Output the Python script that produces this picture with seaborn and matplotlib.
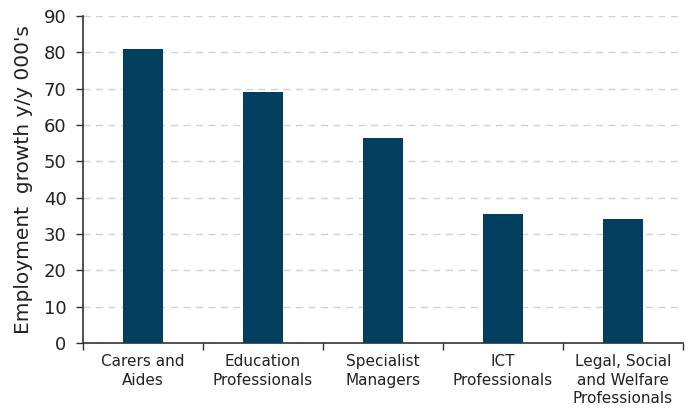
import matplotlib
matplotlib.use("Agg")
import matplotlib.pyplot as plt
import seaborn as sns
import pandas as pd
import numpy as np

categories = ["Carers and\nAides", "Education\nProfessionals", "Specialist\nManagers",
              "ICT\nProfessionals", "Legal, Social\nand Welfare\nProfessionals"]
values = [81, 69, 56.5, 35.5, 34]
yticks = [0, 10, 20, 30, 40, 50, 60, 70, 80, 90]
ylabel = "Employment  growth y/y 000's"

sns.set_theme(style="white")
plt.rcParams['font.family'] = ['DejaVu Sans']

df = pd.DataFrame({"cat": categories, "val": values})

fig = plt.figure(figsize=(6.92, 4.12), dpi=100)
ax = fig.add_axes([0.12, 0.1675, 0.867, 0.794])

sns.barplot(data=df, x="cat", y="val", color="#03405f", width=0.33,
            saturation=1, edgecolor="none", ax=ax, zorder=3)

ax.set_ylim(0, 90)
ax.set_xlim(-0.5, len(categories) - 0.5)
ax.set_yticks(yticks)
ax.yaxis.grid(True, linestyle=(0, (5, 4)), color="#c9d5dc", linewidth=1, zorder=0)
ax.xaxis.grid(False)

for s in ["top", "right"]:
    ax.spines[s].set_visible(False)
for s in ["left", "bottom"]:
    ax.spines[s].set_color("#333333")
    ax.spines[s].set_linewidth(1.2)

ax.tick_params(axis="y", which="major", direction="out", length=5, width=1,
               color="#333333", labelsize=13, labelcolor="#222222", pad=7, left=True)
ax.tick_params(axis="x", which="major", length=0, labelsize=11, labelcolor="#222222", pad=8)
ax.set_xticks(np.arange(-0.5, len(categories), 1.0), minor=True)
ax.tick_params(axis="x", which="minor", direction="out", length=5, width=1,
               color="#333333", bottom=True)
for t in ax.get_xticklabels():
    t.set_linespacing(1.3)

ax.set_xlabel("")
ax.set_ylabel(ylabel, fontsize=14.5, color="#222222", labelpad=8)

fig.savefig("out.png", dpi=100)
